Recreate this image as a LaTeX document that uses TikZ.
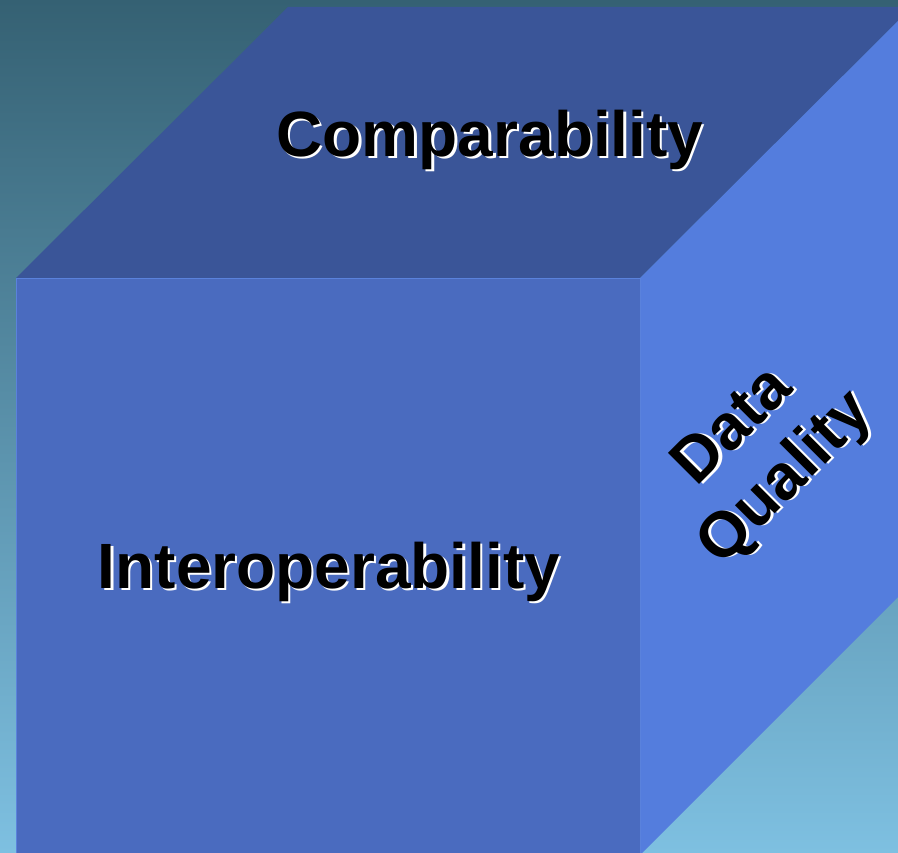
\documentclass[tikz,border=0pt]{standalone}
\usepackage{fontspec}
\setmainfont{Liberation Sans}
\definecolor{bgtop}{HTML}{356173}
\definecolor{bgbot}{HTML}{7EC0E1}
\definecolor{topface}{HTML}{3A5598}
\definecolor{frontface}{HTML}{4A6BBF}
\definecolor{sideface}{HTML}{547DDD}
\definecolor{edgeline}{HTML}{5A82DC}
\newcommand\shtxt[1]{\rlap{\kern2.2pt\raisebox{-2.2pt}{\color{white}#1}}#1}
\tikzset{
  lbl/.style={font=\bfseries\fontsize{64}{74}\selectfont, text=black, inner sep=0pt, align=center},
}
\begin{document}
\begin{tikzpicture}[x=1pt,y=-1pt]
\useasboundingbox (0,0) rectangle (898,853);
\shade[top color=bgtop, bottom color=bgbot] (0,0) rectangle (898,853);
% faces
\fill[topface] (16,278) -- (288,7) -- (912,7) -- (640,278) -- cycle;
\fill[sideface] (640,278) -- (912,7) -- (912,583) -- (640,855) -- cycle;
\fill[frontface] (16,278) rectangle (640,855);
\draw[edgeline, line width=1.2pt] (16.6,855) -- (16.6,278.6) -- (640,278.6);
\draw[edgeline, line width=1.2pt] (640.6,278) -- (640.6,855);
% labels
\node[lbl] (c) at (490,141) {\shtxt{Comparability}};
\node[lbl] (i) at (329,573) {\shtxt{Interoperability}};
\node[lbl, rotate=45] (d) at (762,455) {\shtxt{Data}\\\shtxt{Quality}};
\end{tikzpicture}
\end{document}
